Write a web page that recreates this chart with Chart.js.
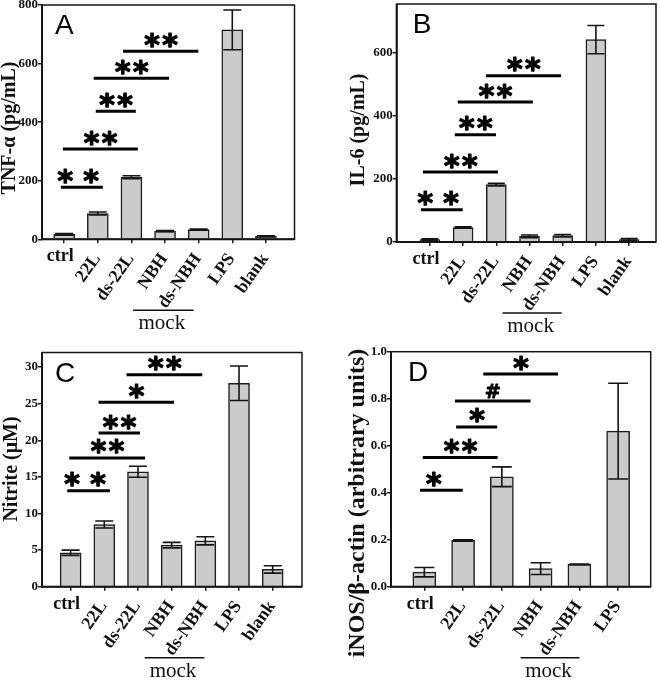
<!DOCTYPE html>
<html><head><meta charset="utf-8">
<script src="https://cdn.jsdelivr.net/npm/chart.js@4.4.1/dist/chart.umd.min.js"></script>
<style>
html,body{margin:0;padding:0;background:#fff;}
#wrap{position:relative;width:660px;height:680px;overflow:hidden;background:#fff;}
canvas{position:absolute;}
</style></head><body>
<div id="wrap">
<canvas id="cA" width="330" height="335" style="left:0;top:0;width:330px;height:335px"></canvas>
<canvas id="cB" width="330" height="340" style="left:330px;top:0;width:330px;height:340px"></canvas>
<canvas id="cC" width="330" height="350" style="left:0;top:330px;width:330px;height:350px"></canvas>
<canvas id="cD" width="330" height="350" style="left:330px;top:330px;width:330px;height:350px"></canvas>
</div>
<script>
// ---------- data ----------
const groups  = ['ctrl','22L','ds-22L','NBH','ds-NBH','LPS','blank'];
const groupsD = ['ctrl','22L','ds-22L','NBH','ds-NBH','LPS'];
const mockGroup = [3, 4];

const tnfMean = [17, 88, 212, 28, 33, 715, 10];
const tnfErr  = [3, 5, 5, 2, 2, 68, 2];
const tnfTicks = [0, 200, 400, 600, 800];
const tnfSigFrom = [-0.10, -0.04, 0.94, 0.88, 1.75];
const tnfSigTo   = [1.15, 2.19, 2.13, 3.12, 3.99];
const tnfSigY    = [178, 308, 437, 550, 642];
const tnfSigLbl  = ['**','**','**','**','**'];

const il6Mean = [8, 46, 182, 18, 20, 642, 8];
const il6Err  = [2, 2, 4, 4, 4, 45, 3];
const il6Ticks = [0, 200, 400, 600];
const il6SigFrom = [-0.27, -0.21, 0.75, 0.84, 1.69];
const il6SigTo   = [0.99, 2.05, 1.99, 3.10, 3.95];
const il6SigY    = [102, 222, 340, 444, 527];
const il6SigLbl  = ['**','**','**','**','**'];

const nitMean = [4.64, 8.5, 15.7, 5.68, 6.27, 27.8, 2.36];
const nitErr  = [0.36, 0.48, 0.75, 0.38, 0.56, 2.35, 0.5];
const nitTicks = [0, 5, 10, 15, 20, 25, 30];
const nitSigFrom = [-0.10, -0.04, 0.83, 0.83, 1.66];
const nitSigTo   = [1.17, 2.21, 2.06, 3.07, 3.91];
const nitSigY    = [13.1, 17.6, 21.0, 25.2, 28.95];
const nitSigLbl  = ['**','**','**','*','**'];

const inosMean = [0.062, 0.197, 0.468, 0.077, 0.095, 0.662];
const inosErr  = [0.02, 0.003, 0.042, 0.025, 0.001, 0.204];
const inosTicks = [0, 0.2, 0.4, 0.6, 0.8, 1.0];
const inosSigFrom = [-0.11, -0.04, 0.82, 0.79, 1.52];
const inosSigTo   = [0.99, 1.89, 1.88, 2.74, 3.45];
const inosSigY    = [0.41, 0.55, 0.68, 0.79, 0.905];
const inosSigLbl  = ['*','**','*','#','*'];

// ---------- drawing helpers ----------
const SERIF = '"Liberation Serif", "Times New Roman", serif';
const SANS = '"Liberation Sans", Arial, sans-serif';
const INK = '#111';

function symFont(ctx, ch, targetH) {
  ctx.font = 'bold 100px "DejaVu Sans"';
  const m = ctx.measureText(ch);
  const h = m.actualBoundingBoxAscent + m.actualBoundingBoxDescent;
  const size = 100 * targetH / h;
  ctx.font = 'bold ' + size.toFixed(2) + 'px "DejaVu Sans"';
  return ctx.measureText(ch);
}

function drawSymbol(ctx, ch, cx, bottomY, targetH) {
  const m = symFont(ctx, ch, targetH);
  ctx.textAlign = 'center';
  ctx.textBaseline = 'alphabetic';
  const xOff = (m.actualBoundingBoxLeft - m.actualBoundingBoxRight) / 2;
  const by = bottomY - m.actualBoundingBoxDescent;
  ctx.fillText(ch, cx + xOff, by);
  ctx.lineWidth = ch === '*' ? 1.2 : 0.8;
  ctx.lineJoin = 'round';
  ctx.strokeText(ch, cx + xOff, by);
}

function makePanel(id, cfg) {
  const canvas = document.getElementById(id);
  const W = canvas.width, H = canvas.height;
  const A = cfg.area;
  const pts = cfg.means.map((v, i) => ({x: i, y: v}));

  const annot = {
    id: 'annot' + id,
    afterDatasetsDraw(chart) {
      const ctx = chart.ctx, xs = chart.scales.x, ys = chart.scales.y;
      ctx.save();
      ctx.strokeStyle = '#151515';
      ctx.lineWidth = 1.6;
      const cap = cfg.capW / 2;
      cfg.means.forEach((v, i) => {
        const x = xs.getPixelForValue(i);
        const yt = ys.getPixelForValue(v + cfg.errs[i]);
        const yb = ys.getPixelForValue(v - cfg.errs[i]);
        ctx.beginPath();
        ctx.moveTo(x, yt); ctx.lineTo(x, yb);
        ctx.moveTo(x - cap, yt); ctx.lineTo(x + cap, yt);
        ctx.moveTo(x - cap, yb); ctx.lineTo(x + cap, yb);
        ctx.stroke();
      });
      ctx.restore();
    },
    afterDraw(chart) {
      const ctx = chart.ctx, xs = chart.scales.x, ys = chart.scales.y;
      const ca = chart.chartArea;
      ctx.save();
      // frame
      ctx.strokeStyle = '#151515';
      ctx.lineWidth = 1.5;
      ctx.strokeRect(ca.left, ca.top, ca.right - ca.left, ca.bottom - ca.top);
      ctx.lineWidth = 2;
      ctx.beginPath();
      ctx.moveTo(ca.left, ca.top); ctx.lineTo(ca.left, ca.bottom); ctx.lineTo(ca.right, ca.bottom);
      ctx.stroke();

      // significance brackets
      ctx.fillStyle = '#000';
      ctx.strokeStyle = '#000';
      cfg.sigFrom.forEach((f, k) => {
        const x1 = xs.getPixelForValue(f), x2 = xs.getPixelForValue(cfg.sigTo[k]);
        const y = ys.getPixelForValue(cfg.sigY[k]);
        ctx.lineWidth = 3;
        ctx.beginPath(); ctx.moveTo(x1, y); ctx.lineTo(x2, y); ctx.stroke();
        const lbl = cfg.sigLbl[k];
        const mid = (x1 + x2) / 2;
        const n = lbl.length;
        for (let c = 0; c < n; c++) {
          const cx = mid + (c - (n - 1) / 2) * 18;
          const ch = lbl[c];
          drawSymbol(ctx, ch, cx, y - 3.5, 14);
        }
      });

      // panel letter
      ctx.fillStyle = '#000';
      ctx.font = '28px ' + SANS;
      ctx.textAlign = 'left';
      ctx.textBaseline = 'alphabetic';
      const lm = ctx.measureText(cfg.letter);
      ctx.fillText(cfg.letter, ca.left + cfg.letterDx, ca.top + 10 + lm.actualBoundingBoxAscent);

      // y title
      ctx.fillStyle = INK;
      ctx.save();
      ctx.translate(cfg.titleX, cfg.titleY);
      ctx.rotate(-Math.PI / 2);
      ctx.font = 'bold ' + cfg.titleSize + 'px ' + SERIF;
      ctx.textAlign = 'center';
      ctx.textBaseline = 'middle';
      ctx.fillText(cfg.title, 0, 0);
      ctx.restore();

      // x category labels
      ctx.font = 'bold 18px ' + SERIF;
      cfg.cats.forEach((lab, i) => {
        const x = xs.getPixelForValue(i);
        if (i === 0) {
          ctx.textAlign = 'center';
          ctx.textBaseline = 'alphabetic';
          ctx.fillText(lab, x - 4, ca.bottom + 22);
        } else {
          ctx.save();
          ctx.translate(x + 3, ca.bottom + 19);
          ctx.rotate(-55 * Math.PI / 180);
          ctx.textAlign = 'right';
          ctx.textBaseline = 'alphabetic';
          ctx.fillText(lab, 0, 0);
          ctx.restore();
        }
      });

      // mock group
      const mx1 = xs.getPixelForValue(mockGroup[0]) + cfg.mock[0];
      const mx2 = xs.getPixelForValue(mockGroup[1]) + cfg.mock[1];
      ctx.strokeStyle = '#111';
      ctx.lineWidth = 1.5;
      ctx.beginPath(); ctx.moveTo(mx1, ca.bottom + 71); ctx.lineTo(mx2, ca.bottom + 71); ctx.stroke();
      ctx.font = '21px ' + SERIF;
      ctx.textAlign = 'center';
      ctx.textBaseline = 'alphabetic';
      ctx.fillText('mock', (mx1 + mx2) / 2 - 1.5, ca.bottom + 90);
      ctx.restore();
    }
  };

  return new Chart(canvas, {
    type: 'bar',
    data: { datasets: [{
      data: pts,
      backgroundColor: '#cbcbcb',
      borderColor: '#1e1e1e',
      borderWidth: 1.5,
      barThickness: cfg.barW
    }]},
    options: {
      responsive: false,
      animation: false,
      events: [],
      layout: { padding: { left: A.l - 30, top: A.t, right: W - A.r, bottom: H - A.b - 20 } },
      plugins: { legend: { display: false }, tooltip: { enabled: false } },
      scales: {
        x: {
          type: 'linear', min: cfg.xmin, max: cfg.xmax, offset: false,
          grid: { offset: false, drawOnChartArea: false, drawTicks: true, tickLength: 4, color: '#1e1e1e', lineWidth: 1.5 },
          border: { display: false },
          ticks: { display: false },
          afterBuildTicks(s) { s.ticks = cfg.cats.map((_, i) => ({ value: i })); },
          afterFit(s) { s.height = 20; s.paddingLeft = 0; s.paddingRight = 0; s.paddingTop = 0; s.paddingBottom = 0; }
        },
        y: {
          min: 0, max: cfg.ymax,
          grid: { drawOnChartArea: false, drawTicks: true, tickLength: 4, color: '#1e1e1e', lineWidth: 1.5 },
          border: { display: false },
          ticks: {
            font: { family: SERIF, weight: 'bold', size: 13 }, color: INK, padding: 0,
            callback: cfg.fmt
          },
          afterBuildTicks(s) { s.ticks = cfg.ticks.map(v => ({ value: v })); },
          afterFit(s) { s.width = 30; s.paddingTop = 0; s.paddingBottom = 0; s.paddingLeft = 0; s.paddingRight = 0; }
        }
      }
    },
    plugins: [annot]
  });
}

makePanel('cA', {
  cats: groups, means: tnfMean, errs: tnfErr, ticks: tnfTicks, ymax: 800,
  fmt: v => String(v),
  sigFrom: tnfSigFrom, sigTo: tnfSigTo, sigY: tnfSigY, sigLbl: tnfSigLbl,
  area: { l: 42, t: 5, r: 294.5, b: 239.3 }, xmin: -0.66, xmax: 6.85,
  barW: 21, capW: 18, letter: 'A', letterDx: 13,
  title: 'TNF-\u03b1 (pg/mL)', titleX: 10, titleY: 128, titleSize: 20,
  mock: [-32, -5]
});
makePanel('cB', {
  cats: groups, means: il6Mean, errs: il6Err, ticks: il6Ticks, ymax: 755,
  fmt: v => String(v),
  sigFrom: il6SigFrom, sigTo: il6SigTo, sigY: il6SigY, sigLbl: il6SigLbl,
  area: { l: 66.7, t: 4, r: 326, b: 242 }, xmin: -1.0, xmax: 6.81,
  barW: 20, capW: 17, letter: 'B', letterDx: 16,
  title: 'IL-6 (pg/mL)', titleX: 29, titleY: 130, titleSize: 20,
  mock: [-27, -1]
});
makePanel('cC', {
  cats: groups, means: nitMean, errs: nitErr, ticks: nitTicks, ymax: 32,
  fmt: v => String(v),
  sigFrom: nitSigFrom, sigTo: nitSigTo, sigY: nitSigY, sigLbl: nitSigLbl,
  area: { l: 42, t: 22.5, r: 302, b: 256.7 }, xmin: -0.85, xmax: 6.87,
  barW: 21, capW: 18, letter: 'C', letterDx: 13,
  title: 'Nitrite (\u03bcM)', titleX: 12, titleY: 139, titleSize: 20,
  mock: [-27, -1]
});
makePanel('cD', {
  cats: groupsD, means: inosMean, errs: inosErr, ticks: inosTicks, ymax: 1.0,
  fmt: v => Number(v).toFixed(1),
  sigFrom: inosSigFrom, sigTo: inosSigTo, sigY: inosSigY, sigLbl: inosSigLbl,
  area: { l: 61, t: 21.7, r: 320.7, b: 256.7 }, xmin: -0.86, xmax: 5.84,
  barW: 23, capW: 20, letter: 'D', letterDx: 17,
  title: 'iNOS/\u03b2-actin (arbitrary units)', titleX: 28, titleY: 173, titleSize: 24,
  mock: [-20, 0]
});
</script>
</body></html>
